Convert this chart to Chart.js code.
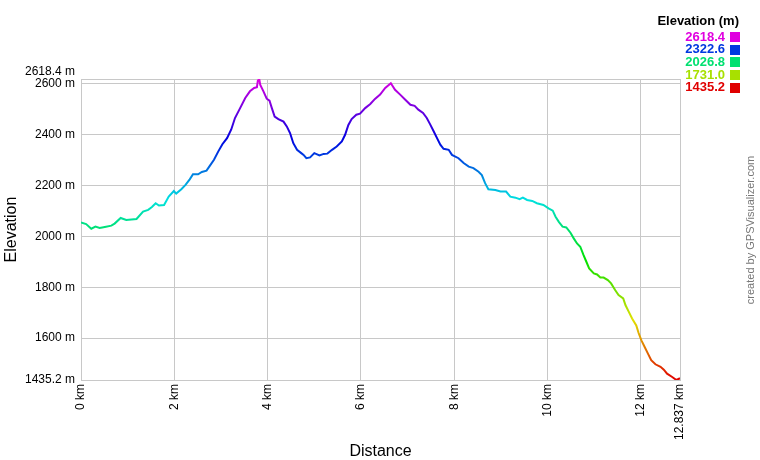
<!DOCTYPE html>
<html>
<head>
<meta charset="utf-8">
<script src="https://cdn.jsdelivr.net/npm/chart.js@4"></script>
<style>
  html, body { margin: 0; padding: 0; background: #fff; }
  #wrap { width: 760px; height: 460px; }
</style>
</head>
<body>
<div id="wrap"><canvas id="c" width="760" height="460"></canvas></div>
<script>
const distanceKm = [0.00,0.11,0.22,0.31,0.40,0.51,0.65,0.72,0.85,0.97,1.19,1.33,1.44,1.52,1.60,1.67,1.78,1.88,1.99,2.04,2.15,2.24,2.33,2.40,2.51,2.59,2.69,2.76,2.85,2.94,3.03,3.13,3.22,3.30,3.41,3.52,3.62,3.71,3.77,3.79,3.82,3.84,3.91,3.98,4.04,4.09,4.15,4.23,4.34,4.41,4.48,4.55,4.63,4.72,4.77,4.83,4.91,5.00,5.11,5.20,5.28,5.38,5.48,5.59,5.66,5.73,5.80,5.90,5.98,6.09,6.20,6.30,6.41,6.52,6.64,6.73,6.84,6.95,7.06,7.15,7.23,7.33,7.41,7.48,7.56,7.63,7.70,7.77,7.88,7.95,8.09,8.20,8.31,8.41,8.52,8.59,8.66,8.73,8.88,8.99,9.11,9.20,9.31,9.40,9.47,9.56,9.67,9.77,9.91,10.02,10.11,10.17,10.24,10.32,10.40,10.49,10.56,10.63,10.70,10.77,10.83,10.89,10.99,11.06,11.13,11.20,11.29,11.36,11.45,11.52,11.62,11.67,11.74,11.81,11.90,11.95,12.01,12.08,12.15,12.22,12.31,12.42,12.49,12.56,12.67,12.76,12.837];
const elevationM = [2054,2048,2030,2038,2033,2037,2042,2050,2072,2064,2068,2097,2104,2115,2130,2121,2123,2156,2178,2168,2185,2202,2224,2244,2244,2253,2258,2277,2301,2333,2362,2386,2420,2465,2504,2544,2570,2583,2586,2612,2618.4,2596,2570,2541,2533,2504,2471,2461,2451,2432,2406,2366,2340,2327,2320,2307,2310,2327,2318,2324,2325,2340,2353,2373,2399,2438,2461,2478,2482,2504,2520,2540,2557,2583,2602,2576,2557,2537,2517,2513,2498,2485,2465,2441,2412,2386,2360,2344,2340,2320,2307,2288,2274,2268,2254,2241,2209,2185,2182,2176,2176,2156,2152,2146,2152,2143,2139,2130,2123,2110,2101,2077,2057,2038,2035,2014,1992,1972,1959,1926,1900,1874,1854,1850,1838,1838,1828,1815,1788,1769,1756,1729,1703,1677,1650,1620,1591,1565,1539,1513,1497,1487,1476,1460,1447,1435.2,1442];
const xTickValues = [0, 2, 4, 6, 8, 10, 12, 12.837];
const yTickValues = [1435.2, 1600, 1800, 2000, 2200, 2400, 2600, 2618.4];
const legendValues = [2618.4, 2322.6, 2026.8, 1731.0, 1435.2];
const yMin = 1435.2, yMax = 2618.4;

const FONT = '"Liberation Sans", Arial, sans-serif';
function hueFor(e) { return 300 * (e - yMin) / (yMax - yMin); }
function colorFor(e) { return 'hsl(' + hueFor(e).toFixed(1) + ',100%,44%)'; }

const points = distanceKm.map((d, i) => ({ x: d, y: elevationM[i] }));

const extras = {
  id: 'extras',
  afterDraw(chart) {
    const ctx = chart.ctx;
    ctx.save();
    // legend
    ctx.fillStyle = '#000';
    ctx.font = 'bold 13px ' + FONT;
    ctx.textAlign = 'right';
    ctx.textBaseline = 'middle';
    ctx.fillText('Elevation (m)', 739, 21);
    legendValues.forEach((v, i) => {
      const y = 37 + i * 12.7;
      const c = colorFor(v);
      ctx.fillStyle = c;
      ctx.font = 'bold 13px ' + FONT;
      ctx.textAlign = 'right';
      ctx.fillText(v.toFixed(1), 725, y);
      ctx.fillRect(730, Math.round(y - 5), 10, 10);
    });
    // credit
    ctx.translate(751, 230);
    ctx.rotate(-Math.PI / 2);
    ctx.fillStyle = '#777';
    ctx.font = '11px ' + FONT;
    ctx.textAlign = 'center';
    ctx.textBaseline = 'middle';
    ctx.fillText('created by GPSVisualizer.com', 0, 0);
    ctx.restore();
  }
};

new Chart(document.getElementById('c'), {
  type: 'line',
  data: {
    datasets: [{
      data: points,
      borderWidth: 2,
      pointRadius: 0,
      tension: 0,
      fill: false,
      borderColor: (context) => {
        const chart = context.chart;
        const { chartArea, scales } = chart;
        if (!chartArea || !scales.y) return '#00e070';
        const yTop = scales.y.getPixelForValue(yMax);
        const yBot = scales.y.getPixelForValue(yMin);
        const g = chart.ctx.createLinearGradient(0, yBot, 0, yTop);
        const n = 60;
        for (let i = 0; i <= n; i++) {
          g.addColorStop(i / n, 'hsl(' + (300 * i / n).toFixed(2) + ',100%,44%)');
        }
        return g;
      }
    }]
  },
  options: {
    responsive: false,
    animation: false,
    devicePixelRatio: 1,
    layout: { padding: { top: 79, right: 80, left: 0, bottom: 0 } },
    plugins: { legend: { display: false }, tooltip: { enabled: false } },
    scales: {
      x: {
        type: 'linear',
        min: 0,
        max: 12.837,
        afterBuildTicks: (s) => { s.ticks = xTickValues.map(v => ({ value: v })); },
        afterFit: (s) => { s.height = 80; },
        grid: { color: '#c8c8c8', lineWidth: 1, drawTicks: false },
        border: { display: true, color: '#c8c8c8' },
        ticks: {
          autoSkip: false,
          minRotation: 90,
          maxRotation: 90,
          padding: 4,
          color: '#000',
          font: { family: FONT, size: 12 },
          callback: (v) => v + ' km'
        },
        title: {
          display: true,
          text: 'Distance',
          color: '#000',
          font: { family: FONT, size: 16, lineHeight: 1 },
          padding: { top: 0, bottom: 0 }
        }
      },
      y: {
        type: 'linear',
        min: yMin,
        max: yMax,
        afterBuildTicks: (s) => { s.ticks = yTickValues.map(v => ({ value: v })); },
        afterFit: (s) => { s.width = 81; },
        grid: { color: '#c8c8c8', lineWidth: 1, drawTicks: false },
        border: { display: true, color: '#c8c8c8' },
        ticks: {
          autoSkip: false,
          padding: 6,
          color: '#000',
          font: { family: FONT, size: 12 },
          callback: (v) => {
            if (v === yMax) return [yMax.toFixed(1) + ' m', ''];
            if (v === yMin) return yMin.toFixed(1) + ' m';
            return v + ' m';
          }
        },
        title: {
          display: true,
          text: 'Elevation',
          color: '#000',
          font: { family: FONT, size: 16, lineHeight: 1 },
          padding: { top: 4, bottom: 0 }
        }
      }
    }
  },
  plugins: [extras]
});
</script>
</body>
</html>
